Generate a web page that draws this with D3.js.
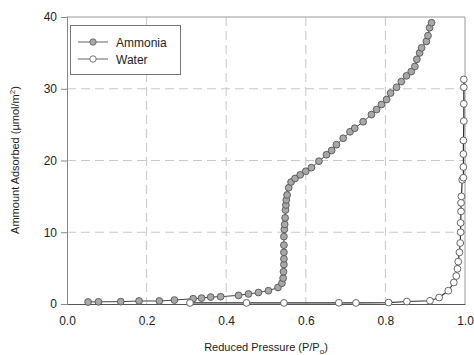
<!DOCTYPE html>
<html><head><meta charset="utf-8">
<script src="https://cdn.jsdelivr.net/npm/d3@7"></script>
<style>body{margin:0;background:#fff}svg{display:block;font-family:"Liberation Sans",Arial,sans-serif}</style>
</head><body><svg id="c" width="474" height="355"></svg>
<script>
const ammonia = [[0.053,0.28],[0.079,0.3],[0.135,0.33],[0.181,0.42],[0.232,0.42],[0.27,0.55],[0.317,0.74],[0.338,0.82],[0.361,0.97],[0.386,1.02],[0.431,1.2],[0.456,1.4],[0.481,1.6],[0.506,1.85],[0.53,2.3],[0.54,2.9],[0.543,3.6],[0.544,4.5],[0.545,5.5],[0.545,6.3],[0.545,7.2],[0.545,8.2],[0.545,9.4],[0.546,10.4],[0.547,11.1],[0.548,12.0],[0.549,13.1],[0.55,13.8],[0.551,14.5],[0.553,15.2],[0.557,16.2],[0.563,17.0],[0.573,17.5],[0.586,18.0],[0.6,18.5],[0.614,19.0],[0.633,19.9],[0.652,20.8],[0.665,21.4],[0.677,22.2],[0.694,23.1],[0.711,24.0],[0.723,24.5],[0.744,25.4],[0.765,26.4],[0.778,27.1],[0.79,27.8],[0.803,28.5],[0.813,29.4],[0.828,30.2],[0.84,31.0],[0.853,31.8],[0.865,32.4],[0.874,33.1],[0.879,34.1],[0.886,35.0],[0.891,35.7],[0.903,36.6],[0.907,37.4],[0.911,38.5],[0.916,39.2]];
const water = [[0.309,0.15],[0.451,0.15],[0.545,0.15],[0.683,0.17],[0.726,0.15],[0.808,0.2],[0.854,0.35],[0.912,0.45],[0.935,0.9],[0.958,1.85],[0.972,3.0],[0.978,3.9],[0.981,4.9],[0.983,5.9],[0.986,7.2],[0.988,8.5],[0.989,10.0],[0.989,11.3],[0.99,12.9],[0.99,14.1],[0.991,15.0],[0.993,17.3],[0.996,17.6],[0.996,19.1],[0.996,20.9],[0.996,22.8],[0.997,25.5],[0.997,27.9],[0.997,30.2],[0.997,31.3]];
const xTicks = [0,0.2,0.4,0.6,0.8,1.0];
const yTicks = [0,10,20,30,40];
const seriesNames = ["Ammonia","Water"];

const svg = d3.select("#c");
const L=67,R=465,T=17,B=304;
const x = d3.scaleLinear().domain([0,1]).range([L,R]);
const y = d3.scaleLinear().domain([0,40]).range([B,T]);

// grid
svg.append("g").selectAll("line").data(xTicks.slice(1,-1)).join("line")
  .attr("x1",d=>x(d)).attr("x2",d=>x(d)).attr("y1",T).attr("y2",B)
  .attr("stroke","#c8c8c8").attr("stroke-dasharray","9,5");
svg.append("g").selectAll("line").data(yTicks.slice(1,-1)).join("line")
  .attr("y1",d=>y(d)).attr("y2",d=>y(d)).attr("x1",L).attr("x2",R)
  .attr("stroke","#c8c8c8").attr("stroke-dasharray","9,5");

// frame
svg.append("line").attr("x1",L).attr("x2",R).attr("y1",T).attr("y2",T).attr("stroke","#999");
svg.append("line").attr("x1",R).attr("x2",R).attr("y1",T).attr("y2",B).attr("stroke","#999");

const xa = svg.append("g").attr("transform",`translate(0,${B})`)
  .call(d3.axisBottom(x).tickValues(xTicks).tickFormat(d3.format(".1f")).tickSize(0).tickPadding(12));
const ya = svg.append("g").attr("transform",`translate(${L},0)`)
  .call(d3.axisLeft(y).tickValues(yTicks).tickSize(6).tickPadding(4));
[xa,ya].forEach(a=>{a.select(".domain").attr("stroke","#888");a.selectAll("line").attr("stroke","#888");
  a.selectAll("text").attr("font-size","12px").attr("fill","#222").attr("font-family","Liberation Sans, Arial, sans-serif");});
xa.select(".domain").attr("stroke","#555");

const line = d3.line().x(d=>x(d[0])).y(d=>y(d[1]));
svg.append("path").datum(water).attr("d",line).attr("fill","none").attr("stroke","#333").attr("stroke-width",1.2);
svg.append("path").datum(ammonia).attr("d",line).attr("fill","none").attr("stroke","#444").attr("stroke-width",1);
svg.append("g").selectAll("circle").data(ammonia).join("circle")
  .attr("cx",d=>x(d[0])).attr("cy",d=>y(d[1])).attr("r",3.4)
  .attr("fill","#a8a8a8").attr("stroke","#555").attr("stroke-width",0.9);
svg.append("g").selectAll("circle").data(water).join("circle")
  .attr("cx",d=>x(d[0])).attr("cy",d=>y(d[1])).attr("r",3.4)
  .attr("fill","#fff").attr("stroke","#555").attr("stroke-width",0.9);

// legend
const lg = svg.append("g");
lg.append("rect").attr("x",70.5).attr("y",25.5).attr("width",110).attr("height",49)
  .attr("fill","#fff").attr("stroke","#777");
seriesNames.forEach((n,i)=>{
  const yy = 42 + i*17;
  lg.append("line").attr("x1",78).attr("x2",108).attr("y1",yy).attr("y2",yy).attr("stroke","#666");
  lg.append("circle").attr("cx",93).attr("cy",yy).attr("r",3.2)
    .attr("fill",i===0?"#a8a8a8":"#fff").attr("stroke","#666").attr("stroke-width",0.9);
  lg.append("text").attr("x",116).attr("y",yy+4.5).attr("font-size","12px").attr("fill","#222").text(n);
});

// titles
const xt = svg.append("text").attr("x",266).attr("y",351).attr("text-anchor","middle")
  .attr("font-size","11px").attr("fill","#222");
xt.append("tspan").text("Reduced Pressure (P/P");
xt.append("tspan").attr("font-size","8px").attr("dy",3).text("o");
xt.append("tspan").attr("dy",-3).text(")");
const yt = svg.append("text").attr("transform","translate(19,160) rotate(-90)").attr("text-anchor","middle")
  .attr("font-size","11px").attr("fill","#222");
yt.append("tspan").text("Ammount Adsorbed (µmol/m");
yt.append("tspan").attr("font-size","8px").attr("dy",-4).text("2");
yt.append("tspan").attr("dy",4).text(")");
</script></body></html>
